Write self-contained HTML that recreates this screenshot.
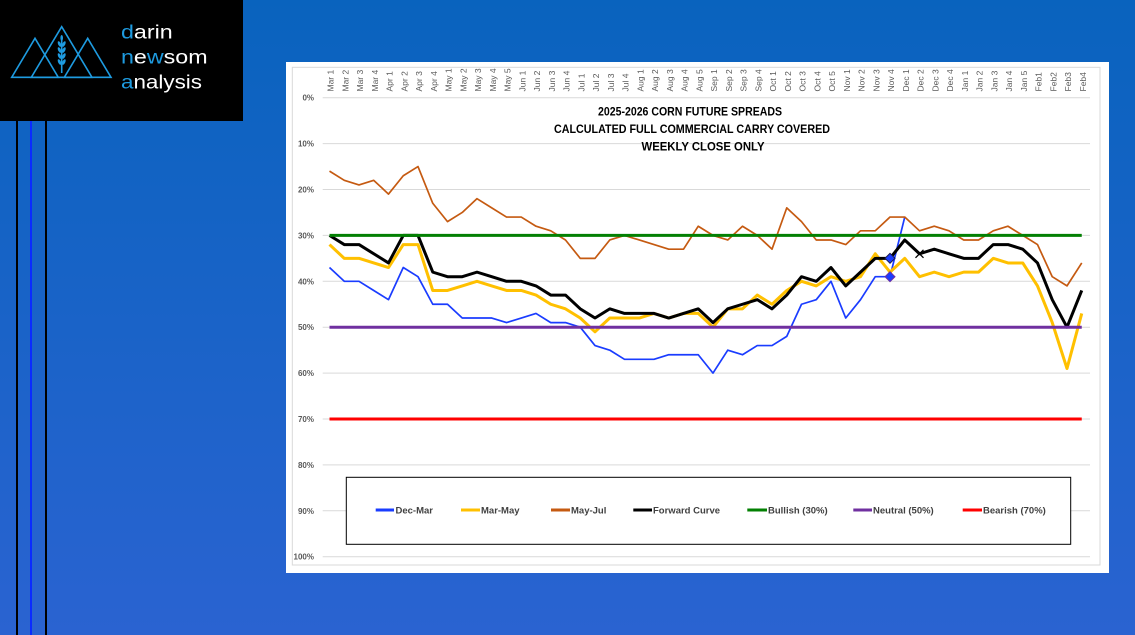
<!DOCTYPE html>
<html><head><meta charset="utf-8"><style>
html,body{margin:0;padding:0;width:1135px;height:635px;overflow:hidden;}
svg{display:block;}
text{font-family:"Liberation Sans",Arial,sans-serif;}
</style></head><body>
<svg width="1135" height="635" viewBox="0 0 1135 635" xmlns="http://www.w3.org/2000/svg">
<defs>
<linearGradient id="bg" x1="0" y1="0" x2="0" y2="1">
<stop offset="0" stop-color="#0963BE"/><stop offset="1" stop-color="#2A63D1"/>
</linearGradient>
</defs>
<rect x="0" y="0" width="1135" height="635" fill="url(#bg)"/>
<!-- left lines -->
<rect x="16" y="121" width="2" height="514" fill="#000"/>
<rect x="30" y="121" width="2" height="514" fill="#0a2bff"/>
<rect x="45" y="121" width="2" height="514" fill="#000"/>
<!-- logo -->
<rect x="0" y="0" width="243" height="121" fill="#000"/>
<g fill="none" stroke="#1E9BE0" stroke-width="1.6" stroke-linejoin="miter">
<polygon points="35,38.3 11.7,77.3 58.3,77.3"/>
<polygon points="61.7,26.7 31.3,77.3 92,77.3"/>
<polygon points="87.7,38.3 64.3,77.3 111,77.3"/>
<line x1="61.7" y1="36" x2="61.7" y2="73"/>
</g>
<g fill="#1E9BE0">
<ellipse cx="61.7" cy="38" rx="1.3" ry="3"/>
<ellipse cx="59.5" cy="44" rx="1.4" ry="3" transform="rotate(-25 59.5 44)"/>
<ellipse cx="63.9" cy="44" rx="1.4" ry="3" transform="rotate(25 63.9 44)"/>
<ellipse cx="59.5" cy="50" rx="1.4" ry="3" transform="rotate(-25 59.5 50)"/>
<ellipse cx="63.9" cy="50" rx="1.4" ry="3" transform="rotate(25 63.9 50)"/>
<ellipse cx="59.5" cy="56" rx="1.4" ry="3" transform="rotate(-25 59.5 56)"/>
<ellipse cx="63.9" cy="56" rx="1.4" ry="3" transform="rotate(25 63.9 56)"/>
<ellipse cx="59.5" cy="62" rx="1.4" ry="3" transform="rotate(-25 59.5 62)"/>
<ellipse cx="63.9" cy="62" rx="1.4" ry="3" transform="rotate(25 63.9 62)"/>
</g>
<g font-size="19" fill="#fff">
<text x="121" y="38.3" textLength="51.7" lengthAdjust="spacingAndGlyphs"><tspan fill="#1E9BE0">d</tspan>arin</text>
<text x="121" y="63.3" textLength="86.6" lengthAdjust="spacingAndGlyphs"><tspan fill="#1E9BE0">n</tspan>e<tspan fill="#1E9BE0">w</tspan>som</text>
<text x="121" y="88.3" textLength="81" lengthAdjust="spacingAndGlyphs"><tspan fill="#1E9BE0">a</tspan>nalysis</text>
</g>
<!-- chart panel -->
<rect x="286" y="62" width="823" height="511" fill="#fff"/>
<rect x="292.3" y="67.3" width="807.7" height="497.7" fill="none" stroke="#D9D9D9" stroke-width="1"/>
<!-- gridlines -->
<g stroke="#D9D9D9" stroke-width="1">
<line x1="322.7" y1="97.7" x2="1090" y2="97.7"/>
<line x1="322.7" y1="143.6" x2="1090" y2="143.6"/>
<line x1="322.7" y1="189.5" x2="1090" y2="189.5"/>
<line x1="322.7" y1="235.4" x2="1090" y2="235.4"/>
<line x1="322.7" y1="281.3" x2="1090" y2="281.3"/>
<line x1="322.7" y1="327.2" x2="1090" y2="327.2"/>
<line x1="322.7" y1="373.1" x2="1090" y2="373.1"/>
<line x1="322.7" y1="419" x2="1090" y2="419"/>
<line x1="322.7" y1="464.9" x2="1090" y2="464.9"/>
<line x1="322.7" y1="510.8" x2="1090" y2="510.8"/>
<line x1="322.7" y1="556.7" x2="1090" y2="556.7"/>
</g>
<!-- y labels -->
<g font-size="8" font-weight="bold" fill="#595959" text-anchor="end">
<text x="314" y="100.7">0%</text>
<text x="314" y="146.6">10%</text>
<text x="314" y="192.5">20%</text>
<text x="314" y="238.4">30%</text>
<text x="314" y="284.3">40%</text>
<text x="314" y="330.2">50%</text>
<text x="314" y="376.1">60%</text>
<text x="314" y="422">70%</text>
<text x="314" y="467.9">80%</text>
<text x="314" y="513.8">90%</text>
<text x="314" y="559.7">100%</text>
</g>
<!-- x labels -->
<g font-size="8.5" fill="#595959">
<text transform="translate(333.5,91.5) rotate(-90)">Mar 1</text>
<text transform="translate(348.25,91.5) rotate(-90)">Mar 2</text>
<text transform="translate(363,91.5) rotate(-90)">Mar 3</text>
<text transform="translate(377.75,91.5) rotate(-90)">Mar 4</text>
<text transform="translate(392.5,91.5) rotate(-90)">Apr 1</text>
<text transform="translate(407.25,91.5) rotate(-90)">Apr 2</text>
<text transform="translate(422,91.5) rotate(-90)">Apr 3</text>
<text transform="translate(436.75,91.5) rotate(-90)">Apr 4</text>
<text transform="translate(451.5,91.5) rotate(-90)">May 1</text>
<text transform="translate(466.25,91.5) rotate(-90)">May 2</text>
<text transform="translate(481,91.5) rotate(-90)">May 3</text>
<text transform="translate(495.75,91.5) rotate(-90)">May 4</text>
<text transform="translate(510.5,91.5) rotate(-90)">May 5</text>
<text transform="translate(525.25,91.5) rotate(-90)">Jun 1</text>
<text transform="translate(540,91.5) rotate(-90)">Jun 2</text>
<text transform="translate(554.75,91.5) rotate(-90)">Jun 3</text>
<text transform="translate(569.5,91.5) rotate(-90)">Jun 4</text>
<text transform="translate(584.25,91.5) rotate(-90)">Jul 1</text>
<text transform="translate(599,91.5) rotate(-90)">Jul 2</text>
<text transform="translate(613.75,91.5) rotate(-90)">Jul 3</text>
<text transform="translate(628.5,91.5) rotate(-90)">Jul 4</text>
<text transform="translate(643.25,91.5) rotate(-90)">Aug 1</text>
<text transform="translate(658,91.5) rotate(-90)">Aug 2</text>
<text transform="translate(672.75,91.5) rotate(-90)">Aug 3</text>
<text transform="translate(687.5,91.5) rotate(-90)">Aug 4</text>
<text transform="translate(702.25,91.5) rotate(-90)">Aug 5</text>
<text transform="translate(717,91.5) rotate(-90)">Sep 1</text>
<text transform="translate(731.75,91.5) rotate(-90)">Sep 2</text>
<text transform="translate(746.5,91.5) rotate(-90)">Sep 3</text>
<text transform="translate(761.25,91.5) rotate(-90)">Sep 4</text>
<text transform="translate(776,91.5) rotate(-90)">Oct 1</text>
<text transform="translate(790.75,91.5) rotate(-90)">Oct 2</text>
<text transform="translate(805.5,91.5) rotate(-90)">Oct 3</text>
<text transform="translate(820.25,91.5) rotate(-90)">Oct 4</text>
<text transform="translate(835,91.5) rotate(-90)">Oct 5</text>
<text transform="translate(849.75,91.5) rotate(-90)">Nov 1</text>
<text transform="translate(864.5,91.5) rotate(-90)">Nov 2</text>
<text transform="translate(879.25,91.5) rotate(-90)">Nov 3</text>
<text transform="translate(894,91.5) rotate(-90)">Nov 4</text>
<text transform="translate(908.75,91.5) rotate(-90)">Dec 1</text>
<text transform="translate(923.5,91.5) rotate(-90)">Dec 2</text>
<text transform="translate(938.25,91.5) rotate(-90)">Dec 3</text>
<text transform="translate(953,91.5) rotate(-90)">Dec 4</text>
<text transform="translate(967.75,91.5) rotate(-90)">Jan 1</text>
<text transform="translate(982.5,91.5) rotate(-90)">Jan 2</text>
<text transform="translate(997.25,91.5) rotate(-90)">Jan 3</text>
<text transform="translate(1012,91.5) rotate(-90)">Jan 4</text>
<text transform="translate(1026.75,91.5) rotate(-90)">Jan 5</text>
<text transform="translate(1041.5,91.5) rotate(-90)">Feb1</text>
<text transform="translate(1056.25,91.5) rotate(-90)">Feb2</text>
<text transform="translate(1071,91.5) rotate(-90)">Feb3</text>
<text transform="translate(1085.75,91.5) rotate(-90)">Feb4</text>
</g>
<!-- title -->
<g font-size="11.5" font-weight="bold" fill="#000" text-anchor="middle">
<text x="690" y="115.6" textLength="184" lengthAdjust="spacingAndGlyphs">2025-2026 CORN FUTURE SPREADS</text>
<text x="692" y="133.1" textLength="276" lengthAdjust="spacingAndGlyphs">CALCULATED FULL COMMERCIAL CARRY COVERED</text>
<text x="703" y="150.6" textLength="123" lengthAdjust="spacingAndGlyphs">WEEKLY CLOSE ONLY</text>
</g>
<!-- series -->
<g transform="translate(329.5 97.7) scale(14.75 4.59)" fill="none" stroke-linejoin="round" stroke-linecap="butt">
<polyline vector-effect="non-scaling-stroke" stroke="#1A3CFF" stroke-width="1.7" points="0,37 1,40 2,40 3,42 4,44 5,37 6,39 7,45 8,45 9,48 10,48 11,48 12,49 13,48 14,47 15,49 16,49 17,50 18,54 19,55 20,57 21,57 22,57 23,56 24,56 25,56 26,60 27,55 28,56 29,54 30,54 31,52 32,45 33,44 34,40 35,48 36,44 37,39 38,39 39,26"/>
<polyline vector-effect="non-scaling-stroke" stroke="#FFC000" stroke-width="3" points="0,32 1,35 2,35 3,36 4,37 5,32 6,32 7,42 8,42 9,41 10,40 11,41 12,42 13,42 14,43 15,45 16,46 17,48 18,51 19,48 20,48 21,48 22,47 23,48 24,47 25,47 26,50 27,46 28,46 29,43 30,45 31,42 32,40 33,41 34,39 35,40 36,39 37,34 38,38 39,35 40,39 41,38 42,39 43,38 44,38 45,35 46,36 47,36 48,41 49,49 50,59 51,47"/>
<polyline vector-effect="non-scaling-stroke" stroke="#C55A11" stroke-width="1.7" points="0,16 1,18 2,19 3,18 4,21 5,17 6,15 7,23 8,27 9,25 10,22 11,24 12,26 13,26 14,28 15,29 16,31 17,35 18,35 19,31 20,30 21,31 22,32 23,33 24,33 25,28 26,30 27,31 28,28 29,30 30,33 31,24 32,27 33,31 34,31 35,32 36,29 37,29 38,26 39,26 40,29 41,28 42,29 43,31 44,31 45,29 46,28 47,30 48,32 49,39 50,41 51,36"/>
<polyline vector-effect="non-scaling-stroke" stroke="#000" stroke-width="3" points="0,30 1,32 2,32 3,34 4,36 5,30 6,30 7,38 8,39 9,39 10,38 11,39 12,40 13,40 14,41 15,43 16,43 17,46 18,48 19,46 20,47 21,47 22,47 23,48 24,47 25,46 26,49 27,46 28,45 29,44 30,46 31,43 32,39 33,40 34,37 35,41 36,38 37,35 38,35 39,31 40,34 41,33 42,34 43,35 44,35 45,32 46,32 47,33 48,36 49,44 50,50 51,42"/>
<polyline vector-effect="non-scaling-stroke" stroke="#038003" stroke-width="3" points="0,30 51,30"/>
<polyline vector-effect="non-scaling-stroke" stroke="#7030A0" stroke-width="3" points="0,50 51,50"/>
<polyline vector-effect="non-scaling-stroke" stroke="#FF0000" stroke-width="3" points="0,70 51,70"/>
</g>
<!-- markers -->
<polygon points="890,253.3 895,258.3 890,263.3 885,258.3" fill="#1A3CFF" stroke="#1a1a4a" stroke-width="1"/>
<polygon points="890,271.7 895,276.7 890,281.7 885,276.7" fill="#1A3CFF" stroke="#7030A0" stroke-width="1"/>
<g stroke="#000" stroke-width="1.3">
<line x1="915.5" y1="249.8" x2="923.5" y2="257.8"/>
<line x1="923.5" y1="249.8" x2="915.5" y2="257.8"/>
</g>
<!-- legend -->
<rect x="346.3" y="477.3" width="724.4" height="67" fill="#fff" stroke="#000" stroke-width="1"/>
<g stroke-width="3">
<line x1="375.7" y1="510" x2="394" y2="510" stroke="#1A3CFF"/>
<line x1="461" y1="510" x2="480" y2="510" stroke="#FFC000"/>
<line x1="551" y1="510" x2="570" y2="510" stroke="#C55A11"/>
<line x1="633.3" y1="510" x2="652" y2="510" stroke="#000"/>
<line x1="747.3" y1="510" x2="767" y2="510" stroke="#038003"/>
<line x1="853.3" y1="510" x2="872" y2="510" stroke="#7030A0"/>
<line x1="962.7" y1="510" x2="982" y2="510" stroke="#FF0000"/>
</g>
<g font-size="9.5" font-weight="bold" fill="#404040">
<text x="395.5" y="513.4">Dec-Mar</text>
<text x="481" y="513.4">Mar-May</text>
<text x="571" y="513.4">May-Jul</text>
<text x="653" y="513.4">Forward Curve</text>
<text x="768" y="513.4">Bullish (30%)</text>
<text x="873" y="513.4">Neutral (50%)</text>
<text x="983" y="513.4">Bearish (70%)</text>
</g>
</svg>
</body></html>
